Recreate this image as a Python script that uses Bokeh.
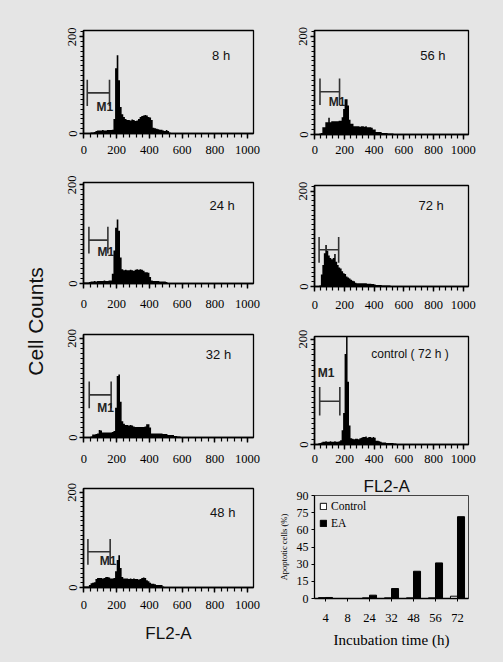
import numpy as np
from bokeh.plotting import figure
from bokeh.layouts import row, column
from bokeh.models import FixedTicker, Range1d, Label, ColumnDataSource, FactorRange
from bokeh.transform import dodge
from bokeh.core.properties import value
from bokeh.embed import file_html
from bokeh.resources import INLINE

# ---------------- data ----------------
channels = list(range(0, 610, 10))   # FL2-A bin edges (10-channel bins, last edge closes the histogram)

counts_8h = [0, 0, 1, 1, 2, 2, 3, 5, 6, 6,
             6, 7, 6, 6, 7, 7, 7, 8, 30, 135,
             162, 110, 55, 40, 34, 30, 28, 28, 27, 29,
             28, 26, 27, 30, 34, 36, 37, 38, 37, 34,
             33, 28, 12, 11, 10, 9, 8, 8, 6, 5,
             7, 5, 2, 1, 0, 0, 0, 0, 0, 0, 0]
counts_24h = [2, 2, 2, 3, 4, 4, 5, 4, 5, 5,
              5, 5, 6, 5, 5, 6, 6, 20, 67, 113,
              130, 107, 53, 29, 27, 28, 27, 27, 28, 27,
              26, 28, 29, 28, 29, 28, 26, 23, 23, 22,
              13, 6, 5, 5, 5, 5, 4, 4, 4, 4,
              3, 1, 0, 0, 0, 0, 0, 0, 0, 0, 0]
counts_32h = [1, 1, 1, 1, 2, 6, 6, 7, 8, 15,
              14, 10, 10, 10, 10, 10, 10, 11, 13, 60,
              124, 127, 72, 33, 28, 25, 25, 24, 25, 24,
              22, 21, 21, 21, 21, 21, 21, 22, 27, 27,
              20, 8, 8, 8, 8, 8, 8, 8, 7, 7,
              7, 5, 5, 5, 5, 3, 3, 2, 2, 1, 0]
counts_48h = [2, 2, 2, 5, 9, 10, 11, 18, 20, 20,
              20, 19, 20, 22, 22, 21, 19, 19, 20, 34,
              58, 68, 41, 22, 19, 19, 19, 18, 19, 18,
              19, 18, 18, 17, 18, 20, 21, 20, 15, 13,
              10, 8, 8, 7, 5, 5, 5, 5, 2, 0,
              0, 0, 0, 0, 0, 0, 0, 0, 0, 0, 0]
counts_56h = [0, 1, 1, 2, 3, 15, 15, 25, 25, 34,
              25, 27, 27, 27, 27, 27, 28, 28, 35, 52,
              72, 72, 59, 30, 22, 22, 17, 17, 17, 17,
              16, 17, 17, 16, 17, 15, 15, 15, 14, 10,
              10, 5, 5, 5, 5, 3, 3, 3, 3, 2,
              2, 2, 2, 1, 0, 0, 0, 0, 0, 0, 0]
counts_72h = [0, 0, 1, 2, 25, 45, 70, 87, 75, 65,
              60, 57, 60, 68, 52, 45, 40, 38, 32, 28,
              26, 21, 19, 17, 14, 12, 11, 8, 7, 7,
              7, 7, 7, 7, 7, 6, 6, 6, 5, 5,
              4, 3, 3, 3, 3, 2, 2, 2, 2, 2,
              2, 1, 1, 1, 1, 0, 0, 0, 0, 0, 0]
counts_ctrl = [1, 1, 2, 3, 4, 5, 5, 6, 5, 5,
               6, 5, 5, 6, 5, 5, 6, 8, 27, 60,
               172, 215, 119, 36, 12, 11, 10, 11, 11, 10,
               12, 13, 14, 14, 15, 13, 14, 14, 13, 14,
               13, 7, 7, 6, 5, 4, 4, 4, 3, 3,
               3, 3, 3, 2, 2, 1, 0, 0, 0, 0, 0]

x_ticks = [0, 200, 400, 600, 800, 1000]
y_ticks = [0, 200]

# M1 gate (channel from, channel to, height in counts)
gate_8h, gate_24h, gate_32h, gate_48h = (20, 156, 84), (30, 146, 88), (32, 166, 86), (24, 160, 75)
gate_56h, gate_72h, gate_ctrl = (34, 166, 87), (28, 160, 77), (32, 168, 82)

hours = ["4", "8", "24", "32", "48", "56", "72"]
control_pct = [0.8, 0.0, 0.6, 0.6, 0.6, 0.6, 2.0]
ea_pct = [0.9, 0.0, 2.9, 8.7, 23.8, 31.1, 71.5]
pct_ticks = [0, 15, 30, 45, 60, 75, 90]

BG = "#e5e5e5"
SERIF = "Liberation Serif"
SANS = "Liberation Sans"


def hist_panel(counts, gate, title, title_xy, m1_xy, w, h, bl, br, bt, bb,
               ytop, standoff, xlabel=None, xlabel_standoff=5, title_size="13px"):
    p = figure(width=w, height=h, x_range=Range1d(-3, 1036), y_range=Range1d(0, ytop),
               output_backend="svg", toolbar_location=None,
               min_border_left=bl, min_border_right=br, min_border_top=bt, min_border_bottom=bb,
               background_fill_color=BG, border_fill_color=BG,
               outline_line_color="black", outline_line_width=1.3)
    p.grid.visible = False
    p.varea_step(x=channels, y1=0, y2=counts, step_mode="after", fill_color="black")
    lo, hi, gy = gate
    cap = 27
    p.segment(x0=[lo, lo, hi], y0=[gy, gy - cap, gy - cap], x1=[hi, lo, hi], y1=[gy, gy + cap, gy + cap],
              line_color="#333333", line_width=1.6)
    if m1_xy is not None:
        p.add_layout(Label(x=m1_xy[0], y=m1_xy[1], text="M1", text_align="center",
                           text_baseline="middle", text_font=SANS, text_font_size="12px",
                           text_font_style="bold", text_color="#222222"))
    p.add_layout(Label(x=title_xy[0], y=title_xy[1], text=title, text_align="center",
                       text_baseline="middle", text_font=SANS, text_font_size=title_size,
                       text_color="#111111"))
    p.xaxis.ticker = FixedTicker(ticks=x_ticks, minor_ticks=list(range(0, 1001, 40)))
    p.yaxis.ticker = FixedTicker(ticks=y_ticks, minor_ticks=list(range(0, 211, 10)))
    p.yaxis.major_label_orientation = "vertical"
    for ax in (p.xaxis[0], p.yaxis[0]):
        ax.axis_line_width = 1.6
        ax.axis_line_color = "black"
        ax.major_tick_in = 0
        ax.minor_tick_in = 0
        ax.major_tick_line_width = 1.4
        ax.minor_tick_line_width = 1.2
        ax.major_label_text_font = SERIF
        ax.major_label_text_font_size = "12.5px"
        ax.major_label_text_color = "black"
    p.xaxis.major_tick_out = 5
    p.xaxis.minor_tick_out = 4
    p.yaxis.major_tick_out = 4
    p.yaxis.minor_tick_out = 3
    p.xaxis.major_label_standoff = standoff
    p.yaxis.major_label_standoff = 3
    if xlabel:
        p.xaxis.axis_label = xlabel
        p.xaxis.axis_label_text_font = SANS
        p.xaxis.axis_label_text_font_size = "17px"
        p.xaxis.axis_label_text_font_style = "normal"
        p.xaxis.axis_label_text_color = "#111111"
        p.xaxis.axis_label_standoff = xlabel_standoff
    return p


# left column
p8 = hist_panel(counts_8h, gate_8h, "8 h", (838, 161), (128, 55), 225, 163, 30, 22, 30, 30, 213, 7)
p24 = hist_panel(counts_24h, gate_24h, "24 h", (844, 158), (133, 63), 225, 155, 32, 22, 19, 35, 205, 11)
p32 = hist_panel(counts_32h, gate_32h, "32 h", (822, 168), (132, 60), 225, 154, 32, 18, 16, 35, 208, 12)
p48 = hist_panel(counts_48h, gate_48h, "48 h", (848, 158), (147, 56), 225, 190, 33, 21, 16, 75, 208, 8,
                 xlabel="FL2-A", xlabel_standoff=12)
# right column
p56 = hist_panel(counts_56h, gate_56h, "56 h", (796, 161), (150, 66), 228, 164, 20, 35, 30, 30, 212, 6)
p72 = hist_panel(counts_72h, gate_72h, "72 h", (784, 170), None, 228, 156, 21, 35, 21, 34, 212, 9)
pc = hist_panel(counts_ctrl, gate_ctrl, "control ( 72 h )", (641, 171), (76, 136), 228, 152, 19, 30, 16, 28,
                205, 5, title_size="12px")

# bar chart (its title carries the FL2-A caption of the control panel above it)
src = ColumnDataSource(dict(hour=hours, control=control_pct, ea=ea_pct))
pb = figure(width=228, height=190, x_range=FactorRange(factors=hours, range_padding=0),
            y_range=Range1d(0, 90), output_backend="svg", toolbar_location=None,
            title="FL2-A",
            min_border_left=35, min_border_right=30, min_border_top=23, min_border_bottom=64,
            background_fill_color=BG, border_fill_color=BG,
            outline_line_color="#444444", outline_line_width=1)
pb.title.text_font = SANS
pb.title.text_font_size = "17px"
pb.title.text_font_style = "normal"
pb.title.text_color = "#111111"
pb.title.align = "left"
pb.title.offset = 49
pb.title.standoff = 0
pb.grid.visible = False
pb.vbar(x=dodge("hour", -0.16, range=pb.x_range), top="control", width=0.32, source=src,
        fill_color="white", line_color="black", line_width=1, legend_label="Control")
pb.vbar(x=dodge("hour", 0.16, range=pb.x_range), top="ea", width=0.32, source=src,
        fill_color="black", line_color="black", line_width=1, legend_label="EA")
pb.yaxis.ticker = FixedTicker(ticks=pct_ticks)
for ax in (pb.xaxis[0], pb.yaxis[0]):
    ax.axis_line_width = 1.3
    ax.axis_line_color = "black"
    ax.major_tick_in = 0
    ax.major_label_text_font = SERIF
    ax.major_label_text_color = "black"
    ax.axis_label_text_font = SERIF
    ax.axis_label_text_font_style = "normal"
    ax.axis_label_text_color = "black"
pb.yaxis.major_tick_out = 3
pb.yaxis.minor_tick_line_color = None
pb.yaxis.major_label_text_font_size = "12px"
pb.yaxis.major_label_standoff = 3
pb.yaxis.axis_label = "Apoptotic cells (%)"
pb.yaxis.axis_label_text_font_size = "8.5px"
pb.yaxis.axis_label_standoff = 5
pb.xaxis.major_tick_out = 3
pb.xaxis.major_label_text_font_size = "12.5px"
pb.xaxis.major_label_standoff = 12
pb.xaxis.axis_label = "Incubation time (h)"
pb.xaxis.axis_label_text_font_size = "15px"
pb.xaxis.axis_label_standoff = 7
pb.legend.location = "top_left"
pb.legend.background_fill_alpha = 0
pb.legend.border_line_color = None
pb.legend.label_text_font = SERIF
pb.legend.label_text_font_size = "11.5px"
pb.legend.label_text_color = "black"
pb.legend.glyph_width = 8
pb.legend.glyph_height = 8
pb.legend.label_height = 12
pb.legend.label_standoff = 4
pb.legend.spacing = 5
pb.legend.padding = 5
pb.legend.margin = 5

# left strip with "Cell Counts"
pl = figure(width=50, height=662, x_range=Range1d(0, 50), y_range=Range1d(0, 662),
            output_backend="svg", toolbar_location=None, x_axis_location=None, y_axis_location=None,
            min_border=0, background_fill_color=BG, border_fill_color=BG, outline_line_color=None)
pl.grid.visible = False
pl.text(x=[35], y=[341], text=["Cell Counts"], angle=np.pi / 2, text_font=value(SANS),
        text_font_size="21px", text_align="center", text_baseline="middle", text_color="#111111")

layout = row(pl, column(p8, p24, p32, p48, spacing=0), column(p56, p72, pc, pb, spacing=0), spacing=0)
layout.styles = {"background-color": BG}

html = file_html(layout, INLINE)
html = html.replace("<body>", '<body style="margin:0;background-color:%s;">' % BG, 1)
open("out.html", "w").write(html)
